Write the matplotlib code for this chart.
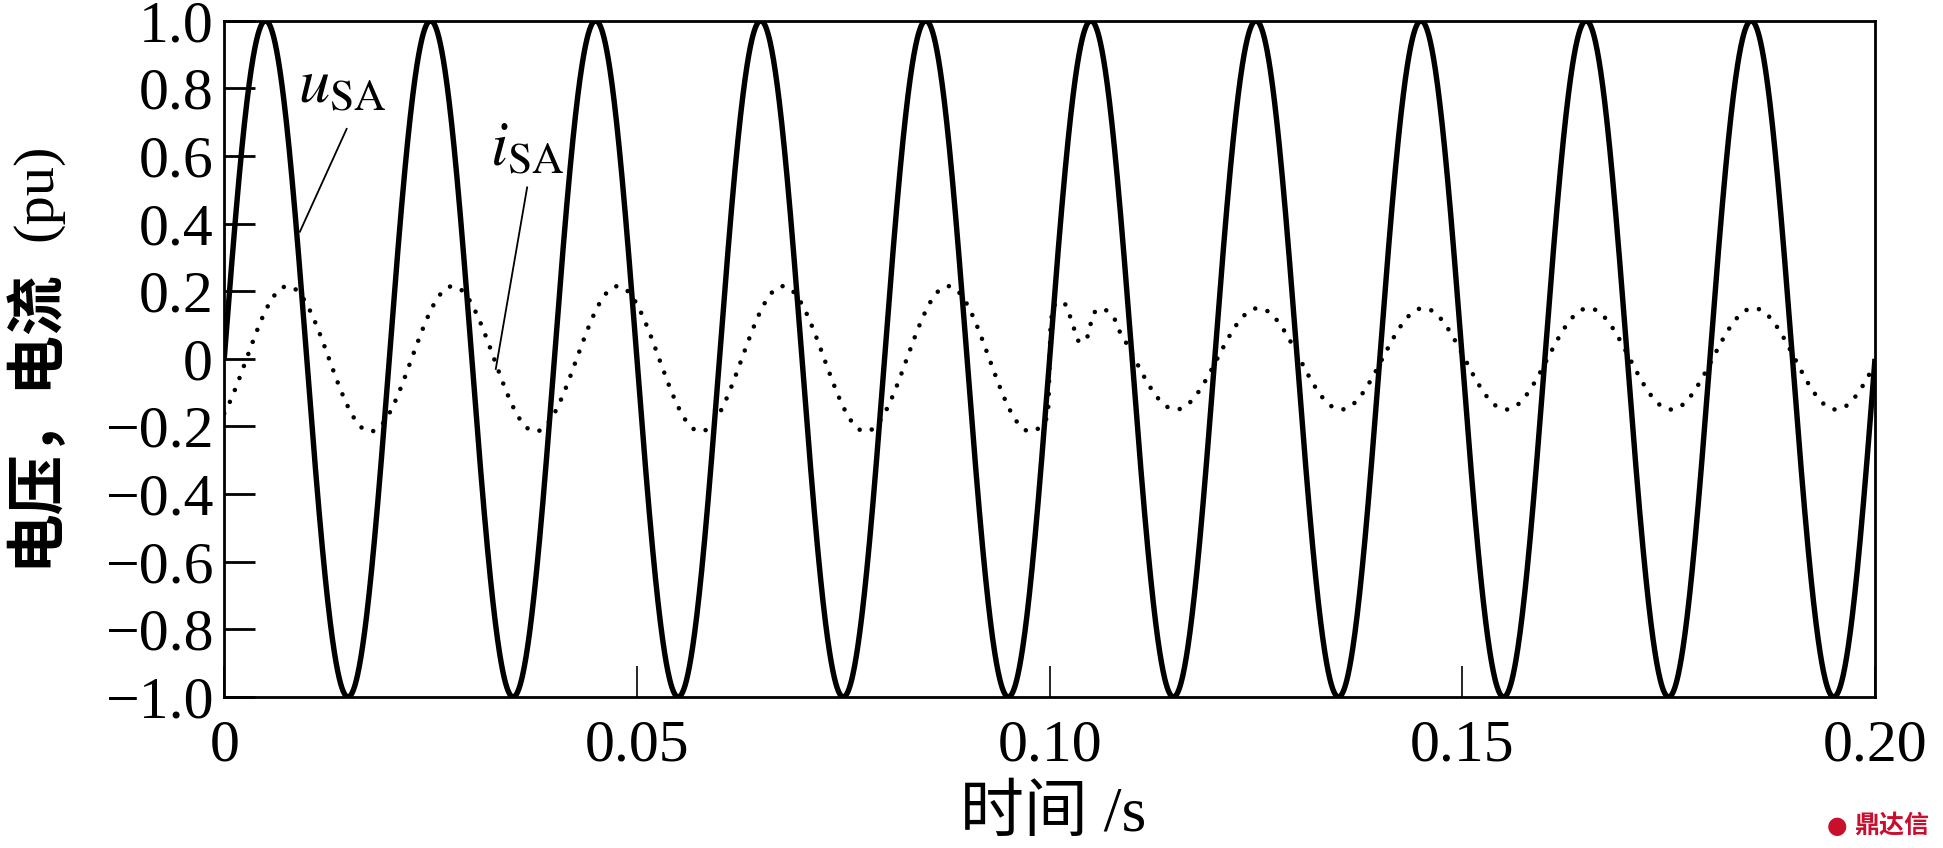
import numpy as np
import matplotlib
matplotlib.use("Agg")
import matplotlib.pyplot as plt

# values
freq_hz = 50.0
t_end = 0.20
u_amp = 1.0

# current before the switching event (sinusoid, rising zero crossing time)
i_pre_amp = 0.215
i_pre_zero = 0.0027
i_pre_end = 0.0997

# current during the transient around t = 0.1 s
i_trans_t = [0.0998, 0.0999, 0.1000, 0.1001, 0.10035, 0.10086, 0.10187, 0.10247,
             0.10299, 0.10348, 0.10400, 0.10457, 0.10493, 0.10542, 0.10663, 0.10784]
i_trans_v = [-0.17, -0.10, 0.0, 0.09, 0.15, 0.168, 0.163, 0.126,
             0.087, 0.053, 0.048, 0.064, 0.10, 0.138, 0.149, 0.12]

# current after the event
i_post_amp = 0.15
i_post_zero = 0.1003
i_post_start = 0.1085

x_ticks = [0, 0.05, 0.10, 0.15, 0.20]
x_ticklabels = ["0", "0.05", "0.10", "0.15", "0.20"]
y_ticks = [-1.0, -0.8, -0.6, -0.4, -0.2, 0, 0.2, 0.4, 0.6, 0.8, 1.0]
y_ticklabels = ["\u22121.0", "\u22120.8", "\u22120.6", "\u22120.4", "\u22120.2", "0",
                "0.2", "0.4", "0.6", "0.8", "1.0"]

w = 2 * np.pi * freq_hz
t = np.linspace(0, t_end, 4001)
u = u_amp * np.sin(w * t)

t_pre = t[t <= i_pre_end]
t_post = t[t >= i_post_start]
i_t = np.concatenate([t_pre, i_trans_t, t_post])
i_v = np.concatenate([i_pre_amp * np.sin(w * (t_pre - i_pre_zero)),
                      i_trans_v,
                      i_post_amp * np.sin(w * (t_post - i_post_zero))])

serif = ["Liberation Serif", "DejaVu Serif"]
cjk = ["Noto Sans CJK SC", "DejaVu Sans"]
plt.rcParams["mathtext.fontset"] = "stix"
plt.rcParams["axes.unicode_minus"] = True

fig = plt.figure(figsize=(19.43, 8.48), dpi=100)
ax = fig.add_axes([0.1154, 0.1781, 0.8496, 0.7975])

ax.plot(t, u, color="black", lw=3.9, solid_capstyle="butt")
ax.plot(i_t, i_v, color="black", lw=3.3, linestyle=(0, (0.001, 2.8)),
        dash_capstyle="round")

ax.set_xlim(0, t_end)
ax.set_ylim(-1.0, 1.0)
ax.set_xticks(x_ticks)
ax.set_xticklabels(x_ticklabels, family=serif, fontsize=43)
ax.set_yticks(y_ticks)
ax.set_yticklabels(y_ticklabels, family=serif, fontsize=43)
ax.tick_params(axis="y", direction="in", length=22, width=2, pad=8)
ax.tick_params(axis="x", direction="in", length=22, width=1.2, pad=16)
for s in ax.spines.values():
    s.set_linewidth(2)

# curve labels with leader lines
ax.text(0.0089, 0.759, r"$u_{\mathrm{SA}}$", fontsize=45, ha="left", va="baseline")
ax.plot([0.01483, 0.00917], [0.680, 0.376], color="black", lw=1.3)
ax.text(0.0322, 0.574, r"$i_{\mathrm{SA}}$", fontsize=45, ha="left", va="baseline")
ax.plot([0.0367, 0.0329], [0.507, -0.03], color="black", lw=1.3)

# axis titles
fig.text(0.0175, 0.331, "电压，电流", family=cjk, fontweight="bold", fontsize=43,
         rotation=90, ha="center", va="bottom")
fig.text(0.019, 0.716, "(pu)", family=serif, fontsize=42,
         rotation=90, ha="center", va="bottom")
fig.text(0.542, 0.02, "时间 /s", family=serif + cjk, fontsize=46,
         ha="center", va="baseline")

fig.text(0.951, 0.012, "\u25CF", family=["DejaVu Sans"], fontsize=17,
         color="#c8102e", ha="right", va="bottom")
fig.text(0.993, 0.012, "鼎达信", family=cjk, fontweight="bold", fontsize=18,
         color="#c8102e", ha="right", va="bottom")

fig.savefig("out.png", dpi=100)
